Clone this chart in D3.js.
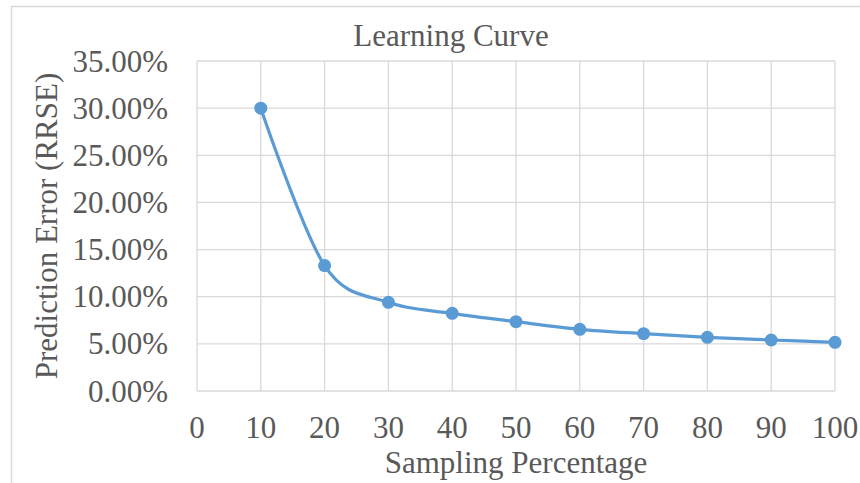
<!DOCTYPE html>
<html>
<head>
<meta charset="utf-8">
<script src="https://cdn.jsdelivr.net/npm/d3@7"></script>
<style>
  body { margin: 0; background: #fff; }
  svg text { font-family: 'Liberation Serif', 'DejaVu Serif', serif; fill: #595959; font-size: 31px; }
</style>
</head>
<body>
<svg class="chart"></svg>
<script>
var samplingPct = [10, 20, 30, 40, 50, 60, 70, 80, 90, 100];
var rrse = [0.300, 0.133, 0.094, 0.0824, 0.0735, 0.0654, 0.0608, 0.0569, 0.0541, 0.0516];
var xTicks = [0, 10, 20, 30, 40, 50, 60, 70, 80, 90, 100];
var yTicks = [0, 0.05, 0.10, 0.15, 0.20, 0.25, 0.30, 0.35];

const W = 860, H = 483;
const m = {left: 197, right: 25, top: 61, bottom: 92};
const svg = d3.select('svg.chart').attr('width', W).attr('height', H);

// chart border
svg.append('rect')
  .attr('x', 11.5).attr('y', 6.5)
  .attr('width', W + 10).attr('height', H + 10)
  .attr('fill', 'none').attr('stroke', '#d9d9d9').attr('stroke-width', 1.5);

const x = d3.scaleLinear().domain([0, 100]).range([m.left, W - m.right]);
const y = d3.scaleLinear().domain([0, 0.35]).range([H - m.bottom, m.top]);

// grid
svg.append('g').selectAll('line.h')
  .data(yTicks).enter().append('line')
  .attr('x1', x(0)).attr('x2', x(100))
  .attr('y1', d => y(d)).attr('y2', d => y(d))
  .attr('stroke', '#d9d9d9').attr('stroke-width', 1.3);
svg.append('g').selectAll('line.v')
  .data(xTicks).enter().append('line')
  .attr('y1', y(0)).attr('y2', y(0.35))
  .attr('x1', d => x(d)).attr('x2', d => x(d))
  .attr('stroke', '#d9d9d9').attr('stroke-width', 1.3);

// tick labels
svg.append('g').selectAll('text')
  .data(yTicks).enter().append('text')
  .attr('x', 168).attr('y', d => y(d) + 10.5)
  .attr('text-anchor', 'end')
  .text(d => (d * 100).toFixed(2) + '%');
svg.append('g').selectAll('text')
  .data(xTicks).enter().append('text')
  .attr('x', d => x(d)).attr('y', 438)
  .attr('text-anchor', 'middle')
  .text(d => d);

// titles
svg.append('text').attr('x', 451).attr('y', 46)
  .attr('text-anchor', 'middle').text('Learning Curve');
svg.append('text').attr('x', 516).attr('y', 473)
  .attr('text-anchor', 'middle').text('Sampling Percentage');
svg.append('text').attr('transform', 'translate(57,226) rotate(-90)')
  .attr('text-anchor', 'middle').text('Prediction Error (RRSE)');

// line
const pts = samplingPct.map((s, i) => [s, rrse[i]]);
const line = d3.line().x(d => x(d[0])).y(d => y(d[1])).curve(d3.curveCardinal.tension(0));
svg.append('path').datum(pts)
  .attr('d', line).attr('fill', 'none')
  .attr('stroke', '#5B9BD5').attr('stroke-width', 3.2);
svg.append('g').selectAll('circle')
  .data(pts).enter().append('circle')
  .attr('cx', d => x(d[0])).attr('cy', d => y(d[1])).attr('r', 6.5)
  .attr('fill', '#5B9BD5');
</script>
</body>
</html>
